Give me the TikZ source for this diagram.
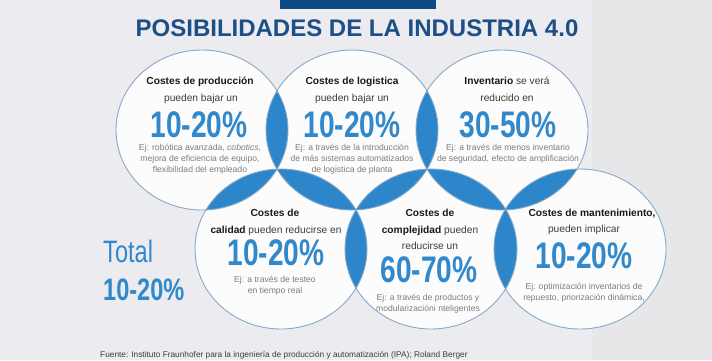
\documentclass[tikz,border=0pt]{standalone}
\usepackage{fontspec}
\setmainfont{Liberation Sans}
\newfontfamily\narrowfont[FakeStretch=0.76]{Liberation Sans}
\usepackage{tikz}
\usetikzlibrary{calc}
\definecolor{titleblue}{RGB}{28,79,134}
\definecolor{barblue}{RGB}{14,74,134}
\definecolor{lensblue}{RGB}{45,134,201}
\definecolor{numblue}{RGB}{49,136,203}
\definecolor{ringline}{RGB}{134,169,201}
\definecolor{slidegray}{RGB}{236,236,240}
\definecolor{sidegray}{RGB}{231,231,233}
\definecolor{headtext}{RGB}{25,25,25}
\definecolor{subtext}{RGB}{60,60,60}
\definecolor{egtext}{RGB}{125,125,125}
\tikzset{ringsize/.style={x radius=86pt,y radius=80pt}}
\tikzset{ring/.style={draw=ringline,line width=0.9pt}}
\tikzset{heading/.style={anchor=base,inner sep=0pt,text=headtext,font=\fontsize{10.2}{12}\selectfont\bfseries}}
\tikzset{subline/.style={anchor=base,inner sep=0pt,text=subtext,font=\fontsize{10.2}{12}\selectfont}}
\tikzset{bignum/.style={anchor=base,inner sep=0pt,text depth=0pt,text=numblue,font=\narrowfont\fontsize{37}{40}\selectfont\bfseries}}
\tikzset{example/.style={anchor=base,inner sep=0pt,text=egtext,align=center,font=\fontsize{8.6}{10.6}\selectfont}}
\newcommand\hd[1]{\textcolor{headtext}{\bfseries #1}}

\begin{document}
\begin{tikzpicture}[x=1pt,y=-1pt]
	\useasboundingbox (0,0) rectangle (712,360);
	\fill[slidegray] (0,0) rectangle (592,360);
	\fill[sidegray] (592,0) rectangle (712,360);
	\fill[barblue] (280,0) rectangle (436,9);
	\node[anchor=base,inner sep=0pt,text=titleblue,font=\fontsize{24}{28}\selectfont\bfseries] (title) at (357,36) {POSIBILIDADES DE LA INDUSTRIA 4.0};
	% centres of the rings
	\coordinate (c1) at (202,130);
	\coordinate (c2) at (352,130);
	\coordinate (c3) at (502,130);
	\coordinate (c4) at (281,249);
	\coordinate (c5) at (431,249);
	\coordinate (c6) at (580,249);
	\foreach \ra in {c1,c2,c3,c4,c5,c6}
		\fill[white,opacity=.85] (\ra) ellipse [ringsize];
	% two rings overlap: blue
	\foreach \ra/\rb in {c1/c2,c2/c3,c4/c5,c5/c6,c1/c4,c2/c4,c2/c5,c3/c5,c3/c6}{
		\begin{scope}
			\clip (\ra) ellipse [ringsize];
			\fill[lensblue] (\rb) ellipse [ringsize];
		\end{scope}
	}
	% three rings overlap: white again
	\foreach \ra/\rb/\rc in {c1/c2/c4,c2/c3/c5,c2/c4/c5,c3/c5/c6}{
		\begin{scope}
			\clip (\ra) ellipse [ringsize];
			\clip (\rb) ellipse [ringsize];
			\fill[white] (\rc) ellipse [ringsize];
		\end{scope}
	}
	\foreach \ra in {c1,c2,c3,c4,c5,c6}
		\draw[ring] (\ra) ellipse [ringsize];

	% example nodes: base anchor sits on their last line
	\node[heading] (h1) at (200,84) {Costes de producción};
	\node[subline] (s1) at (201,101) {pueden bajar un};
	\node[bignum] (n1) at (199,137) {10-20\%};
	\node[example] (e1) at (200,172) {Ej: robótica avanzada, \textit{cobotics},\\mejora de eficiencia de equipo,\\flexibilidad del empleado};

	\node[heading] (h2) at (352,84) {Costes de logistica};
	\node[subline] (s2) at (352,101) {pueden bajar un};
	\node[bignum] (n2) at (352,137) {10-20\%};
	\node[example] (e2) at (352,172) {Ej: a través de la introducción\\de más sistemas automatizados\\de logistica de planta};

	\node[subline] (h3) at (507,84) {\hd{Inventario} se verá};
	\node[subline] (s3) at (507,101) {reducido en};
	\node[bignum] (n3) at (508,137) {30-50\%};
	\node[example] (e3) at (508,161) {Ej: a través de menos inventario\\de seguridad, efecto de amplificación};

	\node[heading] (h4) at (275,216) {Costes de};
	\node[subline] (s4) at (276,233) {\hd{calidad} pueden reducirse en};
	\node[bignum] (n4) at (276,265) {10-20\%};
	\node[example] (e4) at (275,293.5) {Ej: a través de testeo\\en tiempo real};

	\node[heading] (h5) at (430,216) {Costes de};
	\node[subline] (s5) at (430,233) {\hd{complejidad} pueden};
	\node[subline] (t5) at (430,249) {reducirse un};
	\node[bignum] (n5) at (429,282) {60-70\%};
	\node[example] (e5) at (428,311) {Ej: a través de productos y\\modularizacióni nteligentes};

	\node[heading] (h6) at (592,216) {Costes de mantenimiento,};
	\node[subline] (s6) at (584,232) {pueden implicar};
	\node[bignum] (n6) at (584,268) {10-20\%};
	\node[example] (e6) at (584,300.5) {Ej: optimización inventarios de\\repuesto, priorización dinámica,};

	\node[anchor=base west,inner sep=0pt,text=numblue,font=\narrowfont\fontsize{31}{33}\selectfont] (total) at (103,262) {Total};
	\node[anchor=base west,inner sep=0pt,text=numblue,font=\narrowfont\fontsize{31}{33}\selectfont\bfseries] (totalnum) at (103,300) {10-20\%};
	\node[anchor=base west,inner sep=0pt,text=subtext,font=\fontsize{8.3}{9}\selectfont] (source) at (100,357) {Fuente: Instituto Fraunhofer para la ingeniería de producción y automatización (IPA); Roland Berger};
\end{tikzpicture}
\end{document}
